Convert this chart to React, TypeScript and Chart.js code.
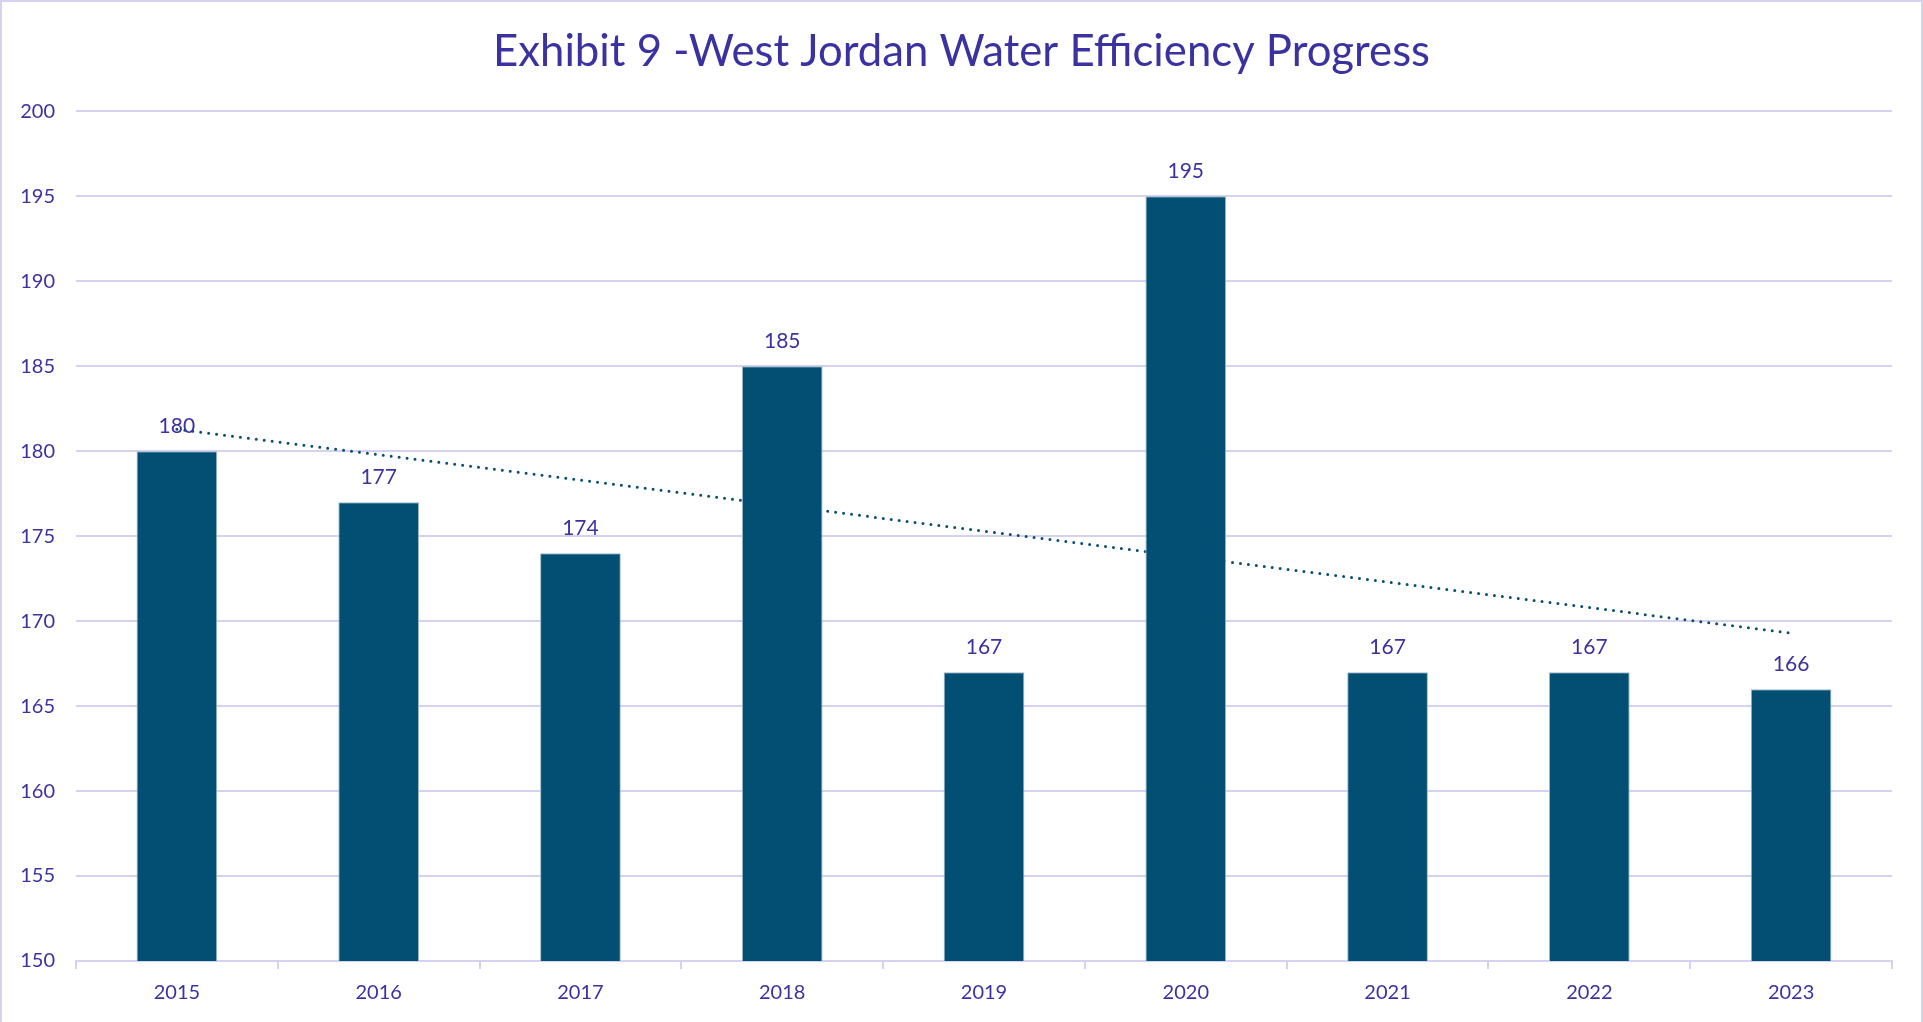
import React, { useEffect, useRef } from "react";
import { Chart, registerables } from "chart.js";

Chart.register(...registerables);

const years = ["2015", "2016", "2017", "2018", "2019", "2020", "2021", "2022", "2023"];
const usage = [180, 177, 174, 185, 167, 195, 167, 167, 166];
const trendStartEnd = [181.3, 169.3];
const yMin = 150;
const yMax = 200;
const yStep = 5;
const titleText = "Exhibit 9 -West Jordan Water Efficiency Progress";

const TEXT = "#3B32A2";
const BAR = "#024F73";
const GRID = "#D5D2F1";
const FONT = "Lato, 'Open Sans', sans-serif";

export default function App() {
  const ref = useRef<HTMLCanvasElement | null>(null);

  useEffect(() => {
    if (!ref.current) return;
    document.body.style.margin = "0";
    const trendData: (number | null)[] = years.map((_, i) =>
      i === 0 ? trendStartEnd[0] : i === years.length - 1 ? trendStartEnd[1] : null
    );

    const frame = {
      id: "frame",
      beforeDraw(chart: any) {
        const { ctx, width, height } = chart;
        ctx.save();
        ctx.fillStyle = "#ffffff";
        ctx.fillRect(0, 0, width, height);
        ctx.strokeStyle = GRID;
        ctx.lineWidth = 2;
        ctx.strokeRect(1, 1, width - 2, height + 10);
        ctx.fillStyle = TEXT;
        ctx.font = `43.7px ${FONT}`;
        ctx.textAlign = "center";
        ctx.textBaseline = "middle";
        ctx.fillText(titleText, width / 2, 51.5);
        ctx.restore();
      },
    };

    const valueLabels = {
      id: "valueLabels",
      afterDatasetsDraw(chart: any) {
        const { ctx } = chart;
        const meta = chart.getDatasetMeta(0);
        ctx.save();
        ctx.fillStyle = TEXT;
        ctx.font = `21px ${FONT}`;
        ctx.textAlign = "center";
        ctx.textBaseline = "middle";
        meta.data.forEach((bar: any, i: number) => {
          ctx.fillText(String(usage[i]), bar.x, bar.y - 25);
        });
        ctx.restore();
      },
    };

    const chart = new Chart(ref.current, {
      type: "bar",
      data: {
        labels: years,
        datasets: [
          {
            type: "bar",
            label: "Usage",
            data: usage,
            backgroundColor: BAR,
            borderColor: "#9FB9CC",
            borderWidth: 1,
            barPercentage: 0.4,
            categoryPercentage: 1,
            order: 1,
          },
          {
            type: "line",
            label: "Trend",
            data: trendData,
            spanGaps: true,
            borderColor: "#0A4F6E",
            borderWidth: 3,
            borderDash: [0, 8],
            borderCapStyle: "round",
            pointRadius: 0,
            fill: false,
            order: 2,
          } as any,
        ],
      },
      options: {
        responsive: false,
        animation: false,
        layout: { padding: { left: 0, right: 31, top: 111.4, bottom: 5 } },
        plugins: {
          legend: { display: false },
          tooltip: { enabled: false },
          title: { display: false },
        },
        scales: {
          x: {
            offset: true,
            grid: {
              offset: true,
              drawOnChartArea: false,
              drawTicks: true,
              tickLength: 8,
              color: GRID,
              lineWidth: 2,
            },
            border: { display: true, color: GRID, width: 2 },
            ticks: { color: TEXT, font: { family: FONT, size: 20 }, padding: 12 },
          },
          y: {
            min: yMin,
            max: yMax,
            ticks: { stepSize: yStep, color: TEXT, font: { family: FONT, size: 20 }, padding: 21 },
            grid: { color: GRID, lineWidth: 2, drawTicks: false },
            border: { display: false },
            afterFit(scale: any) {
              scale.width = 76;
            },
          },
        },
      },
      plugins: [frame, valueLabels],
    });
    return () => chart.destroy();
  }, []);

  return (
    <div style={{ position: "fixed", left: 0, top: 0, width: 1923, height: 1022, background: "#fff" }}>
      <canvas ref={ref} width={1923} height={1022} />
    </div>
  );
}
